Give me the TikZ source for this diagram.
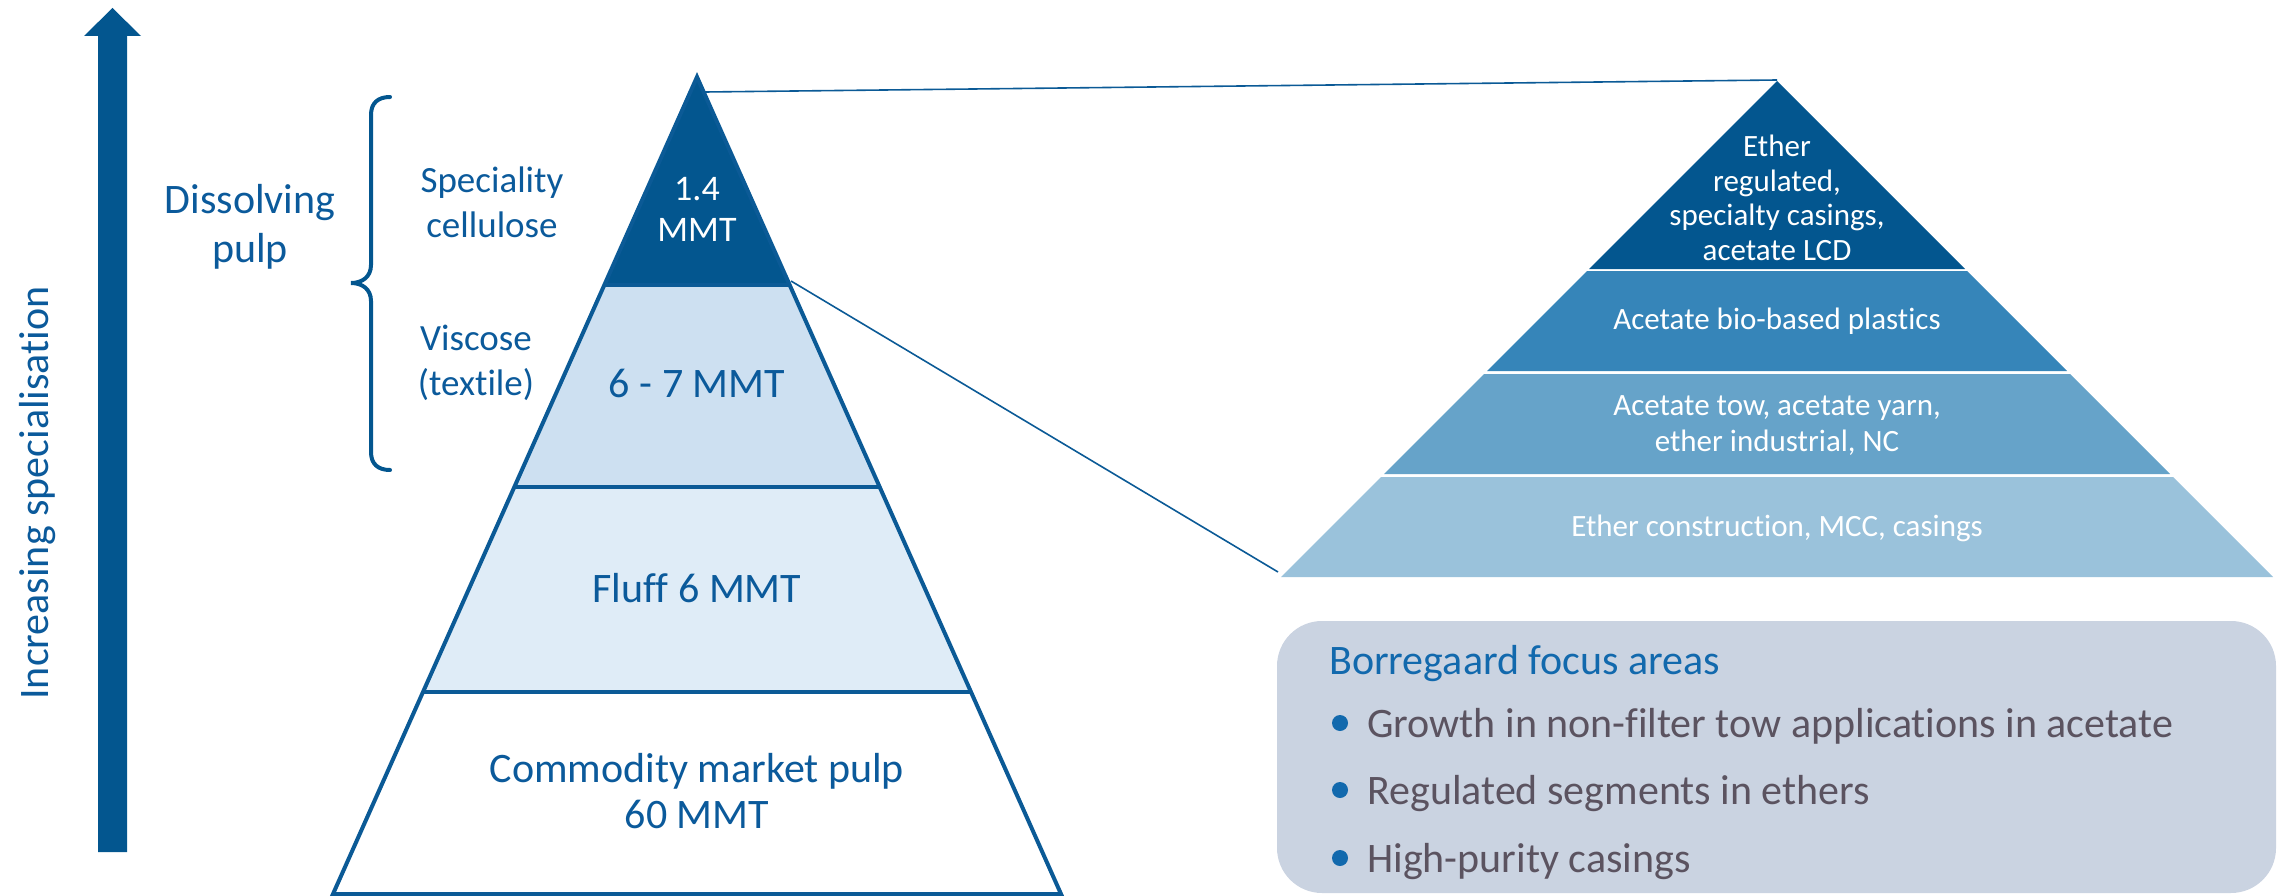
\documentclass[tikz,border=0pt]{standalone}
\usepackage{fontspec}
\setmainfont{Carlito}[Ligatures=NoCommon]
\definecolor{navy}{HTML}{03568F}
\definecolor{txtnavy}{HTML}{0B5A9B}
\definecolor{edge}{HTML}{0B5A96}
\definecolor{lay2}{HTML}{CDE0F1}
\definecolor{lay3}{HTML}{DFECF7}
\definecolor{rb}{HTML}{3685B9}
\definecolor{rc}{HTML}{66A3C9}
\definecolor{rd}{HTML}{9AC2DB}
\definecolor{boxfill}{HTML}{CAD3E1}
\definecolor{titleblue}{HTML}{1269AD}
\definecolor{bulltxt}{HTML}{5B5360}
\tikzset{
  lbl/.style={text=txtnavy, align=center, anchor=base, inner sep=0pt},
  wlbl/.style={text=white, align=center, anchor=base, inner sep=0pt},
  btxt/.style={text=bulltxt, anchor=base west, inner sep=0pt, font=\fontsize{42}{50}\selectfont},
  bdot/.style={circle, fill=titleblue, inner sep=0pt, minimum size=16pt},
  pyredge/.style={draw=edge, line width=4pt, line join=miter},
  conn/.style={draw=edge, line width=1.6pt}
}
\begin{document}
\begin{tikzpicture}[x=1pt,y=-1pt]
\useasboundingbox (0,0) rectangle (2282,896);

% increasing arrow
\fill[navy] (98,852) -- (98,36) -- (84,36) -- (112.5,8) -- (141,36) -- (127,36) -- (127,852) -- cycle;
\node[lbl, rotate=90, font=\fontsize{42}{50}\selectfont] (incr) at (48,493) {Increasing specialisation};

% brace
\draw[navy, line width=4pt, line cap=round]
  (390,97) .. controls (378,97) and (371,103) .. (371,115) -- (371,265)
  .. controls (371,277) and (362,283) .. (351,283)
  .. controls (362,283) and (371,289) .. (371,301) -- (371,452)
  .. controls (371,464) and (378,470) .. (390,470);

% (multi-line nodes are placed at the baseline of their last line)
\node[lbl, font=\fontsize{42}{49}\selectfont] (diss) at (250,262) {Dissolving\\pulp};
\node[lbl, font=\fontsize{37}{45}\selectfont] (spec) at (492,237) {Speciality\\cellulose};
\node[lbl, font=\fontsize{37}{45}\selectfont] (visc) at (476,395) {Viscose\\(textile)};

% left pyramid
\coordinate (lapex) at (697,77);
\fill[navy] (697,77) -- (789.7,285) -- (604.3,285) -- cycle;
\fill[lay2] (604.3,285) -- (789.7,285) -- (879.7,487) -- (514.3,487) -- cycle;
\fill[lay3] (514.3,487) -- (879.7,487) -- (971,692) -- (423,692) -- cycle;
\fill[white] (423,692) -- (971,692) -- (1061,894) -- (333,894) -- cycle;
\draw[pyredge] (697,77) -- (1061,894) -- (333,894) -- cycle;
\draw[pyredge] (604.3,285) -- (789.7,285);
\draw[pyredge] (514.3,487) -- (879.7,487);
\draw[pyredge] (423,692) -- (971,692);

\node[wlbl, font=\fontsize{36}{41}\selectfont] (top) at (697,241) {1.4\\MMT};
\node[lbl, font=\fontsize{42}{49}\selectfont] (visc2) at (697,397) {6 - 7 MMT};
\node[lbl, font=\fontsize{42}{49}\selectfont] (fluff) at (697,602) {Fluff 6 MMT};
\node[lbl, font=\fontsize{42}{46}\selectfont] (comm) at (697,828) {Commodity market pulp\\60 MMT};

% right pyramid
\coordinate (rapex) at (1777,80);
\fill[navy] (1777,81) -- (1965,269) -- (1589,269) -- cycle;
\fill[rb] (1587,271) -- (1967,271) -- (2067,371) -- (1487,371) -- cycle;
\fill[rc] (1484,374) -- (2070,374) -- (2170,474) -- (1384,474) -- cycle;
\fill[rd] (1381,477) -- (2173,477) -- (2273,577) -- (1281,577) -- cycle;

\node[wlbl, font=\fontsize{31}{34.5}\selectfont] (r1) at (1777,260) {Ether\\regulated,\\specialty casings,\\acetate LCD};
\node[wlbl, font=\fontsize{31}{36}\selectfont] (r2) at (1777,329) {Acetate bio-based plastics};
\node[wlbl, font=\fontsize{31}{36}\selectfont] (r3) at (1777,451) {Acetate tow, acetate yarn,\\ether industrial, NC};
\node[wlbl, font=\fontsize{31}{36}\selectfont] (r4) at (1777,536) {Ether construction, MCC, casings};

% connectors
\coordinate (lc1) at (705,92);
\coordinate (lc2) at (791,281);
\coordinate (rc2) at (1278,572);
\draw[conn] (lc1) -- (rapex);
\draw[conn] (lc2) -- (rc2);

% focus box
\fill[boxfill, rounded corners=45pt] (1277,621) rectangle (2276,893);
\node[anchor=base west, inner sep=0pt, text=titleblue, font=\fontsize{42}{50}\selectfont] (title) at (1329,674) {Borregaard focus areas};
\node[bdot] (d1) at (1340,723) {};
\node[btxt] (b1) at (1367,737) {Growth in non-filter tow applications in acetate};
\node[bdot] (d2) at (1340,790) {};
\node[btxt] (b2) at (1367,804) {Regulated segments in ethers};
\node[bdot] (d3) at (1340,858) {};
\node[btxt] (b3) at (1367,872) {High-purity casings};
\end{tikzpicture}
\end{document}
